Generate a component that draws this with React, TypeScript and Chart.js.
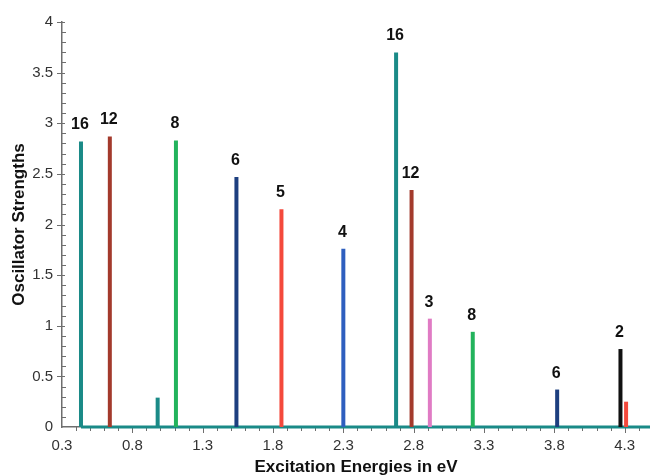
import React, { useEffect, useRef } from 'react';
import { Chart, registerables } from 'chart.js';

Chart.register(...registerables);

// Excitation energies (eV) of each stick, oscillator strengths, labels and colours
const energies = [0.435, 0.64, 0.98, 1.11, 1.54, 1.86, 2.3, 2.675, 2.785, 2.915, 3.22, 3.82, 4.27, 4.31];
const strengths = [2.82, 2.87, 0.29, 2.83, 2.47, 2.15, 1.76, 3.7, 2.34, 1.07, 0.94, 0.37, 0.77, 0.25];
const peakLabels = ['16', '12', '', '8', '6', '5', '4', '16', '12', '3', '8', '6', '2', ''];
const TEAL = '#1a8a87';
const BROWN = '#a33a2c';
const GREEN = '#22b35c';
const NAVY = '#1d3f7f';
const RED = '#f4493c';
const BLUE = '#2e5fbf';
const PINK = '#e07bc4';
const BLACK = '#111111';
const peakColors = [TEAL, BROWN, TEAL, GREEN, NAVY, RED, BLUE, TEAL, BROWN, PINK, GREEN, NAVY, BLACK, RED];

const xTickValues = [0.3, 0.8, 1.3, 1.8, 2.3, 2.8, 3.3, 3.8, 4.3];
const yTickValues = [0, 0.5, 1, 1.5, 2, 2.5, 3, 3.5, 4];
const X_MIN = 0.3;
const X_MAX = 4.48;
const Y_MIN = 0;
const Y_MAX = 4;
const MINOR_STEP = 0.1;

const FONT = 'Liberation Sans, Arial, Helvetica, sans-serif';
const AXIS_COLOR = '#6e6e6e';

const tickPlugin = {
  id: 'minorTicks',
  beforeDatasetsDraw(chart: any) {
    const { ctx } = chart;
    const xs = chart.scales.x;
    const ys = chart.scales.y;
    const y0 = ys.getPixelForValue(Y_MIN);
    const x0 = xs.getPixelForValue(X_MIN);
    ctx.save();
    ctx.strokeStyle = AXIS_COLOR;
    ctx.lineWidth = 1;
    const nx = Math.round((X_MAX - X_MIN) / MINOR_STEP);
    for (let i = 1; i <= nx; i++) {
      const v = X_MIN + i * MINOR_STEP;
      const isMajor = xTickValues.some((t) => Math.abs(t - v) < 1e-6);
      const px = Math.round(xs.getPixelForValue(v)) + 0.5;
      ctx.beginPath();
      ctx.moveTo(px, y0);
      ctx.lineTo(px, y0 + (isMajor ? 6 : 4));
      ctx.stroke();
    }
    const ny = Math.round((Y_MAX - Y_MIN) / MINOR_STEP);
    for (let i = 1; i <= ny; i++) {
      const v = Y_MIN + i * MINOR_STEP;
      const isMajor = yTickValues.some((t) => Math.abs(t - v) < 1e-6);
      const py = Math.round(ys.getPixelForValue(v)) + 0.5;
      ctx.beginPath();
      if (isMajor) {
        ctx.moveTo(x0 - 5, py);
        ctx.lineTo(x0 + 3, py);
      } else {
        ctx.moveTo(x0, py);
        ctx.lineTo(x0 + 4, py);
      }
      ctx.stroke();
    }
    ctx.restore();
  },
};

const labelPlugin = {
  id: 'peakLabels',
  afterDatasetsDraw(chart: any) {
    const { ctx } = chart;
    const xs = chart.scales.x;
    const ys = chart.scales.y;
    ctx.save();
    ctx.font = `bold 16px ${FONT}`;
    ctx.fillStyle = '#111';
    ctx.textAlign = 'center';
    ctx.textBaseline = 'alphabetic';
    energies.forEach((e, i) => {
      const txt = peakLabels[i];
      if (!txt) return;
      const px = xs.getPixelForValue(e);
      const py = ys.getPixelForValue(strengths[i]);
      ctx.fillText(txt, px - 1, py - 12);
    });
    ctx.restore();
  },
};

export default function App() {
  const canvasRef = useRef<HTMLCanvasElement | null>(null);

  useEffect(() => {
    if (!canvasRef.current) return;
    Chart.defaults.font.family = FONT;

    const peakSets = energies.map((e, i) => ({
      label: `peak${i}`,
      data: [
        { x: e, y: 0 },
        { x: e, y: strengths[i] },
      ],
      showLine: true,
      borderColor: peakColors[i],
      backgroundColor: peakColors[i],
      borderWidth: 4,
      borderCapStyle: 'butt',
      pointRadius: 0,
      clip: false,
    }));

    const baseline = {
      label: 'baseline',
      data: [
        { x: energies[0], y: 0 },
        { x: X_MAX, y: 0 },
      ],
      showLine: true,
      borderColor: TEAL,
      backgroundColor: TEAL,
      borderWidth: 3,
      borderCapStyle: 'butt',
      pointRadius: 0,
      clip: false,
    };

    const chart = new Chart(canvasRef.current, {
      type: 'scatter',
      data: { datasets: [...peakSets, baseline] as any },
      plugins: [tickPlugin, labelPlugin],
      options: {
        animation: false,
        responsive: false,
        maintainAspectRatio: false,
        layout: { padding: { top: 22, right: 0, left: 0, bottom: 0 } },
        plugins: {
          legend: { display: false },
          tooltip: { enabled: false },
        },
        scales: {
          x: {
            type: 'linear',
            min: X_MIN,
            max: X_MAX,
            afterBuildTicks: (scale: any) => {
              scale.ticks = xTickValues.map((v) => ({ value: v }));
            },
            afterFit: (scale: any) => {
              scale.height = 49;
            },
            grid: { display: false, drawTicks: false },
            border: { display: true, color: AXIS_COLOR, width: 1.5 },
            ticks: {
              autoSkip: false,
              maxRotation: 0,
              padding: 10,
              color: '#333',
              font: { size: 15, family: FONT },
              callback: (v: any) => Number(v).toFixed(1),
            },
            title: {
              display: true,
              text: 'Excitation Energies in eV',
              color: '#111',
              font: { size: 17, weight: 'bold', family: FONT, lineHeight: 1 },
              padding: { top: 0, bottom: 0 },
            },
          },
          y: {
            type: 'linear',
            min: Y_MIN,
            max: Y_MAX,
            afterBuildTicks: (scale: any) => {
              scale.ticks = yTickValues.map((v) => ({ value: v }));
            },
            afterFit: (scale: any) => {
              scale.width = 62;
            },
            grid: { display: false, drawTicks: false },
            border: { display: true, color: AXIS_COLOR, width: 1.5 },
            ticks: {
              autoSkip: false,
              padding: 9,
              color: '#333',
              font: { size: 15, family: FONT },
              callback: (v: any) => String(Number(v)),
            },
            title: {
              display: true,
              text: 'Oscillator Strengths',
              color: '#111',
              font: { size: 17, weight: 'bold', family: FONT, lineHeight: 1 },
              padding: { top: 10.5, bottom: 0 },
            },
          },
        },
      } as any,
    });

    return () => {
      chart.destroy();
    };
  }, []);

  return (
    <div style={{ position: 'fixed', left: 0, top: 0, width: 650, height: 476, background: '#fff' }}>
      <canvas ref={canvasRef} width={650} height={476} style={{ display: 'block', width: 650, height: 476 }} />
    </div>
  );
}
